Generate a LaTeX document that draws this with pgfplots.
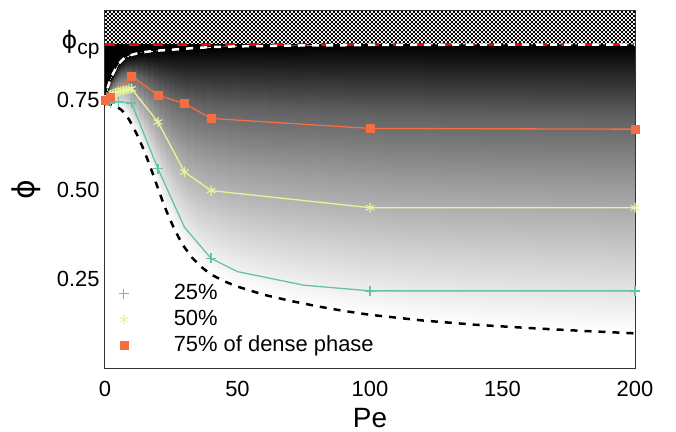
\documentclass[border=0pt]{standalone}
\usepackage{fontspec}
\setmainfont{Liberation Sans}
\newfontfamily\dejavu{DejaVu Sans}
\usepackage{pgfplots}
\pgfplotsset{compat=1.18}
\usepackage{pgfplotstable}
\usetikzlibrary{patterns}
\pgfdeclarepatternformonly{checker}{\pgfpointorigin}{\pgfpoint{4.4bp}{4.4bp}}{\pgfpoint{4.4bp}{4.4bp}}{%
 \pgfpathrectangle{\pgfpointorigin}{\pgfpoint{2.2bp}{2.2bp}}%
 \pgfpathrectangle{\pgfpoint{2.2bp}{2.2bp}}{\pgfpoint{2.2bp}{2.2bp}}%
 \pgfusepath{fill}}
\definecolor{cgreen}{HTML}{66C2A5}
\definecolor{cyellow}{HTML}{E6F598}
\definecolor{cred}{HTML}{F46D43}
\newcommand\phicp{{\fontsize{24}{24}\selectfont\dejavu ϕ}\raisebox{-6bp}{\fontsize{21}{21}\selectfont cp}}

% lower boundary (black dashed)
\pgfplotstableread{
x y
0 0.742
1 0.740
2 0.738
3 0.736
4 0.733
5 0.729
6 0.724
7 0.717
8 0.708
9 0.697
10 0.684
12 0.655
14 0.622
16 0.585
18 0.545
20 0.503
22 0.462
24 0.425
26 0.392
28 0.363
30 0.338
33 0.308
36 0.285
40 0.262
45 0.243
50 0.228
60 0.205
70 0.188
80 0.173
90 0.160
100 0.149
120 0.133
140 0.121
160 0.112
180 0.104
200 0.097
}\lowertab

% upper boundary (white dashed)
\pgfplotstableread{
x y
0 0.745
1 0.785
2 0.808
3 0.824
4 0.838
5 0.850
6 0.859
7 0.866
8 0.871
9 0.875
10 0.877
12 0.881
14 0.884
16 0.886
18 0.888
20 0.889
22 0.890
24 0.891
26 0.892
28 0.893
30 0.894
33 0.896
36 0.897
40 0.899
45 0.900
50 0.901
60 0.902
70 0.903
80 0.904
90 0.904
100 0.905
120 0.905
140 0.906
160 0.906
180 0.906
200 0.906
}\uppertab

% shading patches (4 vertices each): lower boundary c=1 (white), upper boundary c=0 (black)
\pgfplotstableread{
x y c
0 0.742 1
1 0.740 1
1 0.785 0
0 0.745 0
1 0.740 1
2 0.738 1
2 0.808 0
1 0.785 0
2 0.738 1
3 0.736 1
3 0.824 0
2 0.808 0
3 0.736 1
4 0.733 1
4 0.838 0
3 0.824 0
4 0.733 1
5 0.729 1
5 0.850 0
4 0.838 0
5 0.729 1
6 0.724 1
6 0.859 0
5 0.850 0
6 0.724 1
7 0.717 1
7 0.866 0
6 0.859 0
7 0.717 1
8 0.708 1
8 0.871 0
7 0.866 0
8 0.708 1
9 0.697 1
9 0.875 0
8 0.871 0
9 0.697 1
10 0.684 1
10 0.877 0
9 0.875 0
10 0.684 1
12 0.655 1
12 0.881 0
10 0.877 0
12 0.655 1
14 0.622 1
14 0.884 0
12 0.881 0
14 0.622 1
16 0.585 1
16 0.886 0
14 0.884 0
16 0.585 1
18 0.545 1
18 0.888 0
16 0.886 0
18 0.545 1
20 0.503 1
20 0.889 0
18 0.888 0
20 0.503 1
22 0.462 1
22 0.890 0
20 0.889 0
22 0.462 1
24 0.425 1
24 0.891 0
22 0.890 0
24 0.425 1
26 0.392 1
26 0.892 0
24 0.891 0
26 0.392 1
28 0.363 1
28 0.893 0
26 0.892 0
28 0.363 1
30 0.338 1
30 0.894 0
28 0.893 0
30 0.338 1
33 0.308 1
33 0.896 0
30 0.894 0
33 0.308 1
36 0.285 1
36 0.897 0
33 0.896 0
36 0.285 1
40 0.262 1
40 0.899 0
36 0.897 0
40 0.262 1
45 0.243 1
45 0.900 0
40 0.899 0
45 0.243 1
50 0.228 1
50 0.901 0
45 0.900 0
50 0.228 1
60 0.205 1
60 0.902 0
50 0.901 0
60 0.205 1
70 0.188 1
70 0.903 0
60 0.902 0
70 0.188 1
80 0.173 1
80 0.904 0
70 0.903 0
80 0.173 1
90 0.160 1
90 0.904 0
80 0.904 0
90 0.160 1
100 0.149 1
100 0.905 0
90 0.904 0
100 0.149 1
120 0.133 1
120 0.905 0
100 0.905 0
120 0.133 1
140 0.121 1
140 0.906 0
120 0.905 0
140 0.121 1
160 0.112 1
160 0.906 0
140 0.906 0
160 0.112 1
180 0.104 1
180 0.906 0
160 0.906 0
180 0.104 1
200 0.097 1
200 0.906 0
180 0.906 0
}\patchtab

\begin{document}
\begin{tikzpicture}
\useasboundingbox (-105bp,-64bp) rectangle (571bp,368bp);
\begin{axis}[
  at={(0,0)}, anchor=south west,
  scale only axis, width=530bp, height=357bp,
  xmin=0, xmax=200, ymin=0, ymax=1,
  xtick={0,50,100,150,200}, xticklabels={0,50,100,150,200},
  ytick={0.25,0.5,0.75,0.9069}, yticklabels={0.25,0.50,0.75,\phicp},
  major tick length=0pt,
  tick label style={font=\fontsize{22}{26}\selectfont},
  xticklabel style={yshift=-10bp},
  yticklabel style={xshift=-2bp},
  axis on top,
  axis line style={black!80, line width=1bp},
  xlabel={Pe},
  xlabel style={at={(axis description cs:0.5,-0.14)}, anchor=center, inner sep=0pt, font=\fontsize{28}{28}\selectfont},
  ylabel={\dejavu ϕ},
  ylabel style={at={(axis description cs:-0.149,0.5)}, anchor=center, font=\fontsize{30}{30}\selectfont},
  colormap={bw}{gray(0cm)=(0); gray(1cm)=(0.38); gray(2cm)=(0.616); gray(3cm)=(0.818); gray(4cm)=(1)},
  point meta min=0, point meta max=1,
  legend style={draw=none, fill=none, at={(axis description cs:0.02,0.02)}, anchor=south west,
    font=\fontsize{22}{26}\selectfont, row sep=0bp,
    nodes={text height=17bp, text depth=5bp, inner sep=2bp},
    /tikz/every odd column/.append style={column sep=43bp}},
  legend cell align=left,
  legend image code/.code={\draw[#1] plot coordinates {(0bp,0bp)};},
]
% background shading between the two boundaries
\addplot[patch, patch type=rectangle, shader=interp, point meta=explicit, forget plot]
  table[x=x, y=y, meta=c] {\patchtab};
% black band between upper boundary and phi_cp
\addplot[fill=black, draw=none, forget plot] coordinates {
 (0,0.745) (1,0.785) (2,0.808) (3,0.824) (4,0.838) (5,0.850) (6,0.859) (7,0.866) (8,0.871) (9,0.875)
 (10,0.877) (12,0.881) (14,0.884) (16,0.886) (18,0.888) (20,0.889) (24,0.891) (30,0.894) (40,0.899)
 (50,0.901) (70,0.903) (100,0.905) (140,0.906) (200,0.906) (200,0.9069) (0,0.9069)};
% hatched region above phi_cp
\addplot[draw=none, pattern=checker, pattern color=black, forget plot]
  coordinates {(0,0.9069) (200,0.9069) (200,1) (0,1) (0,0.9069)};
% phi_cp line
\addplot[red, line width=3bp, dash pattern=on 10bp off 14bp, forget plot]
  coordinates {(0,0.9069) (200,0.9069)};
% boundaries
\addplot[white, line width=2.5bp, dash pattern=on 7bp off 7bp, forget plot] table[x=x,y=y] {\uppertab};
\addplot[black, line width=2.5bp, dash pattern=on 7bp off 7bp, forget plot] table[x=x,y=y] {\lowertab};
% 25%
\addplot[cgreen, line width=1.3bp, forget plot] coordinates {
 (0,0.735) (2,0.742) (5,0.746) (10,0.742) (20,0.558) (30,0.394) (40,0.307) (50,0.270) (75,0.232) (100,0.216) (200,0.216)};
\addplot[cgreen, only marks, mark=+, mark size=5bp, mark options={line width=1.3bp}] coordinates {
 (2,0.742) (5,0.746) (10,0.742) (20,0.558) (40,0.307) (100,0.216) (200,0.216)};
\addlegendentry{25\%}
% 50%
\addplot[cyellow, line width=1.3bp, forget plot] coordinates {
 (0,0.748) (1,0.757) (2,0.764) (3,0.768) (4,0.771) (5,0.774) (6,0.776) (7,0.777) (8,0.779) (9,0.781) (10,0.782)
 (20,0.689) (30,0.549) (40,0.497) (100,0.449) (200,0.449)};
\addplot[cyellow, only marks, mark=asterisk, mark size=5bp, mark options={line width=1.1bp}] coordinates {
 (1,0.757) (2,0.764) (3,0.768) (4,0.771) (5,0.774) (6,0.776) (7,0.777) (8,0.779) (9,0.781) (10,0.782)
 (20,0.689) (30,0.549) (40,0.497) (100,0.449) (200,0.449)};
\addlegendentry{50\%}
% 75%
\addplot[cred, line width=1.3bp, forget plot] coordinates {
 (0,0.750) (2,0.758) (10,0.818) (20,0.764) (30,0.741) (40,0.699) (100,0.671) (200,0.669)};
\addplot[cred, only marks, mark=square*, mark size=4bp] coordinates {
 (0,0.750) (2,0.758) (10,0.818) (20,0.764) (30,0.741) (40,0.699) (100,0.671) (200,0.669)};
\addlegendentry{75\% of dense phase}
\end{axis}
\end{tikzpicture}
\end{document}
